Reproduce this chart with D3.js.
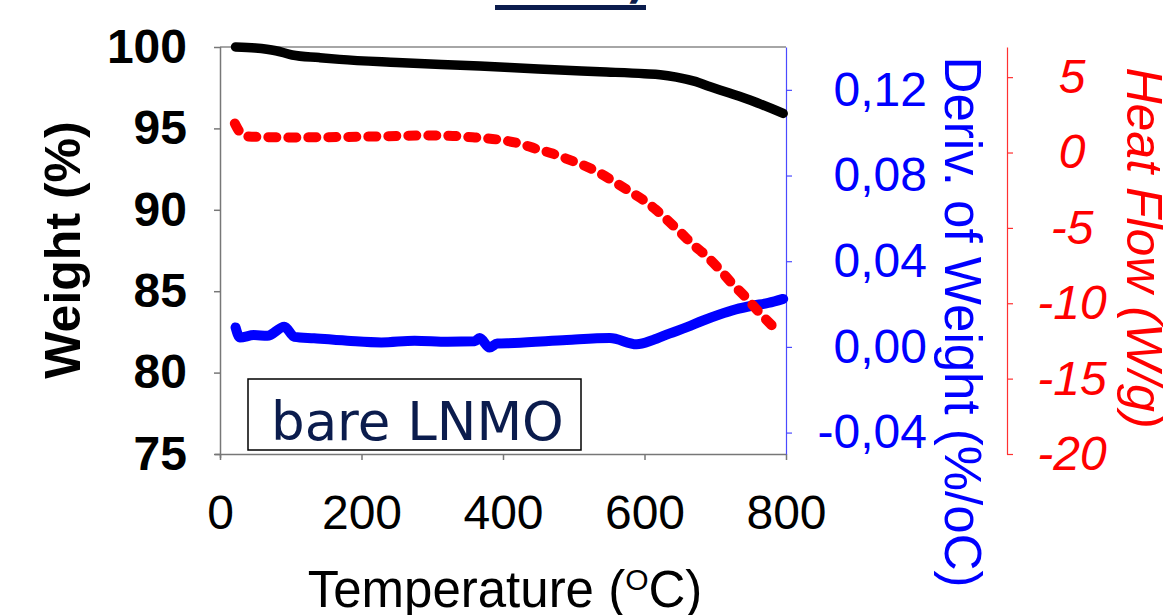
<!DOCTYPE html>
<html>
<head>
<meta charset="utf-8">
<script src="https://cdn.jsdelivr.net/npm/d3@7"></script>
<style>
    html, body { margin: 0; padding: 0; background: #fff; }
    svg { display: block; font-family: "Liberation Sans", Arial, sans-serif; }
</style>
</head>
<body>
<svg id="chart" width="1166" height="615"></svg>
<script>
/**
 * Data.
 */
const xTicks = [0, 200, 400, 600, 800],
    weightTicks = [75, 80, 85, 90, 95, 100],
    derivTicks = [-0.04, 0, 0.04, 0.08, 0.12],
    heatTicks = [-20, -15, -10, -5, 0, 5];

// Weight (%)
const weightT = [22, 50, 79, 102, 140, 169, 250, 367, 450, 537, 600, 622, 645, 670, 693, 720, 749, 796],
    weightV = [100.0, 99.94, 99.77, 99.51, 99.35, 99.24, 99.05, 98.83, 98.65, 98.48, 98.36, 98.3, 98.15, 97.9, 97.56, 97.17, 96.74, 95.92];

// Heat flow (W/g)
const heatT = [21, 27, 36, 60, 100, 200, 300, 329, 360, 391, 423, 446, 470, 493, 517, 538, 559, 578, 599, 616, 635, 653, 667, 686, 705, 724, 743, 762, 785],
    heatV = [1.93, 1.42, 1.08, 1.03, 1.0, 1.05, 1.13, 1.1, 1.0, 0.87, 0.6, 0.26, -0.07, -0.47, -0.91, -1.4, -2.0, -2.55, -3.17, -3.79, -4.6, -5.4, -6.05, -6.8, -7.7, -8.7, -9.6, -10.6, -11.7];

// Deriv. of weight (%/oC)
const derivT = [22, 28, 48, 67, 91, 105, 133, 180, 228, 275, 322, 360, 367, 381, 392, 416, 490, 551, 589, 612, 635, 660, 682, 705, 729, 752, 775, 796],
    derivV = [0.0091, 0.0044, 0.0055, 0.0052, 0.0094, 0.0047, 0.004, 0.0029, 0.0021, 0.0029, 0.0024, 0.0026, 0.0041, -0.0003, 0.0016, 0.0018, 0.0032, 0.0041, 0.0012, 0.0032, 0.0062, 0.0092, 0.0122, 0.015, 0.0175, 0.0192, 0.0205, 0.0224];

const legendLabel = 'bare LNMO',
    topTitle = '300 ºC)';

/**
 * Visual configs.
 */
const plotLeft = 220, plotRight = 786, plotTop = 47, plotBottom = 454,
    heatAxisX = 1007,
    fontSize = 48,
    navy = '#0b1c4d',
    blue = '#0000ff',
    red = '#ff0000';

const svg = d3.select('#chart');

/**
 * Scales.
 */
const xScale = d3.scaleLinear().domain([0, 800]).range([plotLeft, plotRight]),
    weightScale = d3.scaleLinear().domain([75, 100]).range([plotBottom, plotTop]),
    derivScale = d3.scaleLinear().domain([-0.05, 0.14]).range([plotBottom, plotTop]),
    heatScale = d3.scaleLinear().domain([-20, 7]).range([plotBottom, plotTop]);

// Cut off title at the very top
svg.append('text')
    .attr('x', 646).attr('y', -2)
    .attr('text-anchor', 'end')
    .style('font-family', '"DejaVu Sans", Verdana, sans-serif')
    .style('font-weight', 'bold')
    .style('font-size', '44px')
    .style('fill', navy)
    .text(topTitle);
svg.append('rect')
    .attr('x', 495).attr('y', 5).attr('width', 151).attr('height', 5)
    .style('fill', navy);

// Top frame line
svg.append('line')
    .attr('x1', plotLeft).attr('x2', plotRight).attr('y1', plotTop).attr('y2', plotTop)
    .style('stroke', '#888').style('stroke-width', 1.5);

/**
 * Axes.
 */
function styleAxis(g, color, width) {
    g.selectAll('.domain').style('stroke', color).style('stroke-width', width);
    g.selectAll('.tick line').style('stroke', color).style('stroke-width', width);
    g.selectAll('.tick text').style('fill', color).style('font-size', fontSize + 'px');
}

const xAxis = svg.append('g')
    .attr('transform', 'translate(0,' + plotBottom + ')')
    .call(d3.axisBottom(xScale).tickValues(xTicks).tickSize(6).tickSizeOuter(0).tickPadding(35));
styleAxis(xAxis, '#777', 1.5);
xAxis.selectAll('.tick text').style('fill', '#000');
xAxis.select('.domain').attr('d', 'M' + (plotLeft - 5) + ',0.5H' + plotRight);

const weightAxis = svg.append('g')
    .attr('transform', 'translate(' + plotLeft + ',0)')
    .call(d3.axisLeft(weightScale).tickValues(weightTicks).tickSize(6).tickSizeOuter(0).tickPadding(27));
styleAxis(weightAxis, '#777', 1.5);
weightAxis.selectAll('.tick text').style('fill', '#000').style('font-weight', 'bold');
weightAxis.select('.domain').attr('d', 'M0.5,' + plotTop + 'V' + (plotBottom + 4));

const derivAxis = svg.append('g')
    .attr('transform', 'translate(' + plotRight + ',0)')
    .call(d3.axisRight(derivScale).tickValues(derivTicks).tickSize(6).tickSizeOuter(0)
        .tickFormat(d => d3.format('.2f')(d).replace('.', ',').replace('−', '-')));
styleAxis(derivAxis, '#4a4aff', 1.2);
derivAxis.selectAll('.tick text').style('fill', blue)
    .attr('text-anchor', 'end').attr('x', 141);

const heatAxis = svg.append('g')
    .attr('transform', 'translate(' + heatAxisX + ',0)')
    .call(d3.axisRight(heatScale).tickValues(heatTicks).tickSize(6).tickSizeOuter(0)
        .tickFormat(d => String(d)));
styleAxis(heatAxis, '#ff3030', 1.2);
heatAxis.selectAll('.tick text').style('fill', red).style('font-style', 'italic')
    .attr('text-anchor', 'middle').attr('x', 65);

/**
 * Axis titles.
 */
svg.append('text')
    .attr('transform', 'translate(80,250) rotate(-90)')
    .attr('text-anchor', 'middle')
    .style('font-size', '50px').style('font-weight', 'bold')
    .text('Weight (%)');

svg.append('text')
    .attr('transform', 'translate(945,322) rotate(90)')
    .attr('text-anchor', 'middle')
    .style('font-size', '51px').style('fill', blue)
    .text('Deriv. of Weight (%/oC)');

svg.append('text')
    .attr('transform', 'translate(1127,248) rotate(90)')
    .attr('text-anchor', 'middle')
    .style('font-size', '50px').style('font-style', 'italic').style('fill', red)
    .text('Heat Flow (W/g)');

const xTitle = svg.append('text')
    .attr('x', 505).attr('y', 607)
    .attr('text-anchor', 'middle')
    .style('font-size', '51px');
xTitle.append('tspan').text('Temperature (');
xTitle.append('tspan').attr('dy', -17).style('font-size', '30px').text('O');
xTitle.append('tspan').attr('dy', 17).text('C)');

/**
 * Series.
 */
const line = (xs, ys, yScale, curve) => d3.line()
    .x((d, i) => xScale(xs[i]))
    .y(d => yScale(d))
    .curve(curve)(ys);

svg.append('path')
    .attr('d', line(derivT, derivV, derivScale, d3.curveMonotoneX))
    .style('fill', 'none').style('stroke', blue)
    .style('stroke-width', 10).style('stroke-linecap', 'round').style('stroke-linejoin', 'round');

svg.append('path')
    .attr('d', line(weightT, weightV, weightScale, d3.curveMonotoneX))
    .style('fill', 'none').style('stroke', '#000')
    .style('stroke-width', 9.5).style('stroke-linecap', 'round');

svg.append('path')
    .attr('d', line(heatT, heatV, heatScale, d3.curveMonotoneX))
    .style('fill', 'none').style('stroke', red)
    .style('stroke-width', 10).style('stroke-linecap', 'round')
    .style('stroke-dasharray', '8 12');

/**
 * Legend box.
 */
svg.append('rect')
    .attr('x', 248).attr('y', 379).attr('width', 333).attr('height', 71)
    .style('fill', '#fff').style('stroke', '#000').style('stroke-width', 1.5);
svg.append('text')
    .attr('x', 271).attr('y', 440)
    .style('font-family', '"DejaVu Sans", Verdana, sans-serif')
    .style('font-size', '53px').style('fill', navy)
    .text(legendLabel);
</script>
</body>
</html>
